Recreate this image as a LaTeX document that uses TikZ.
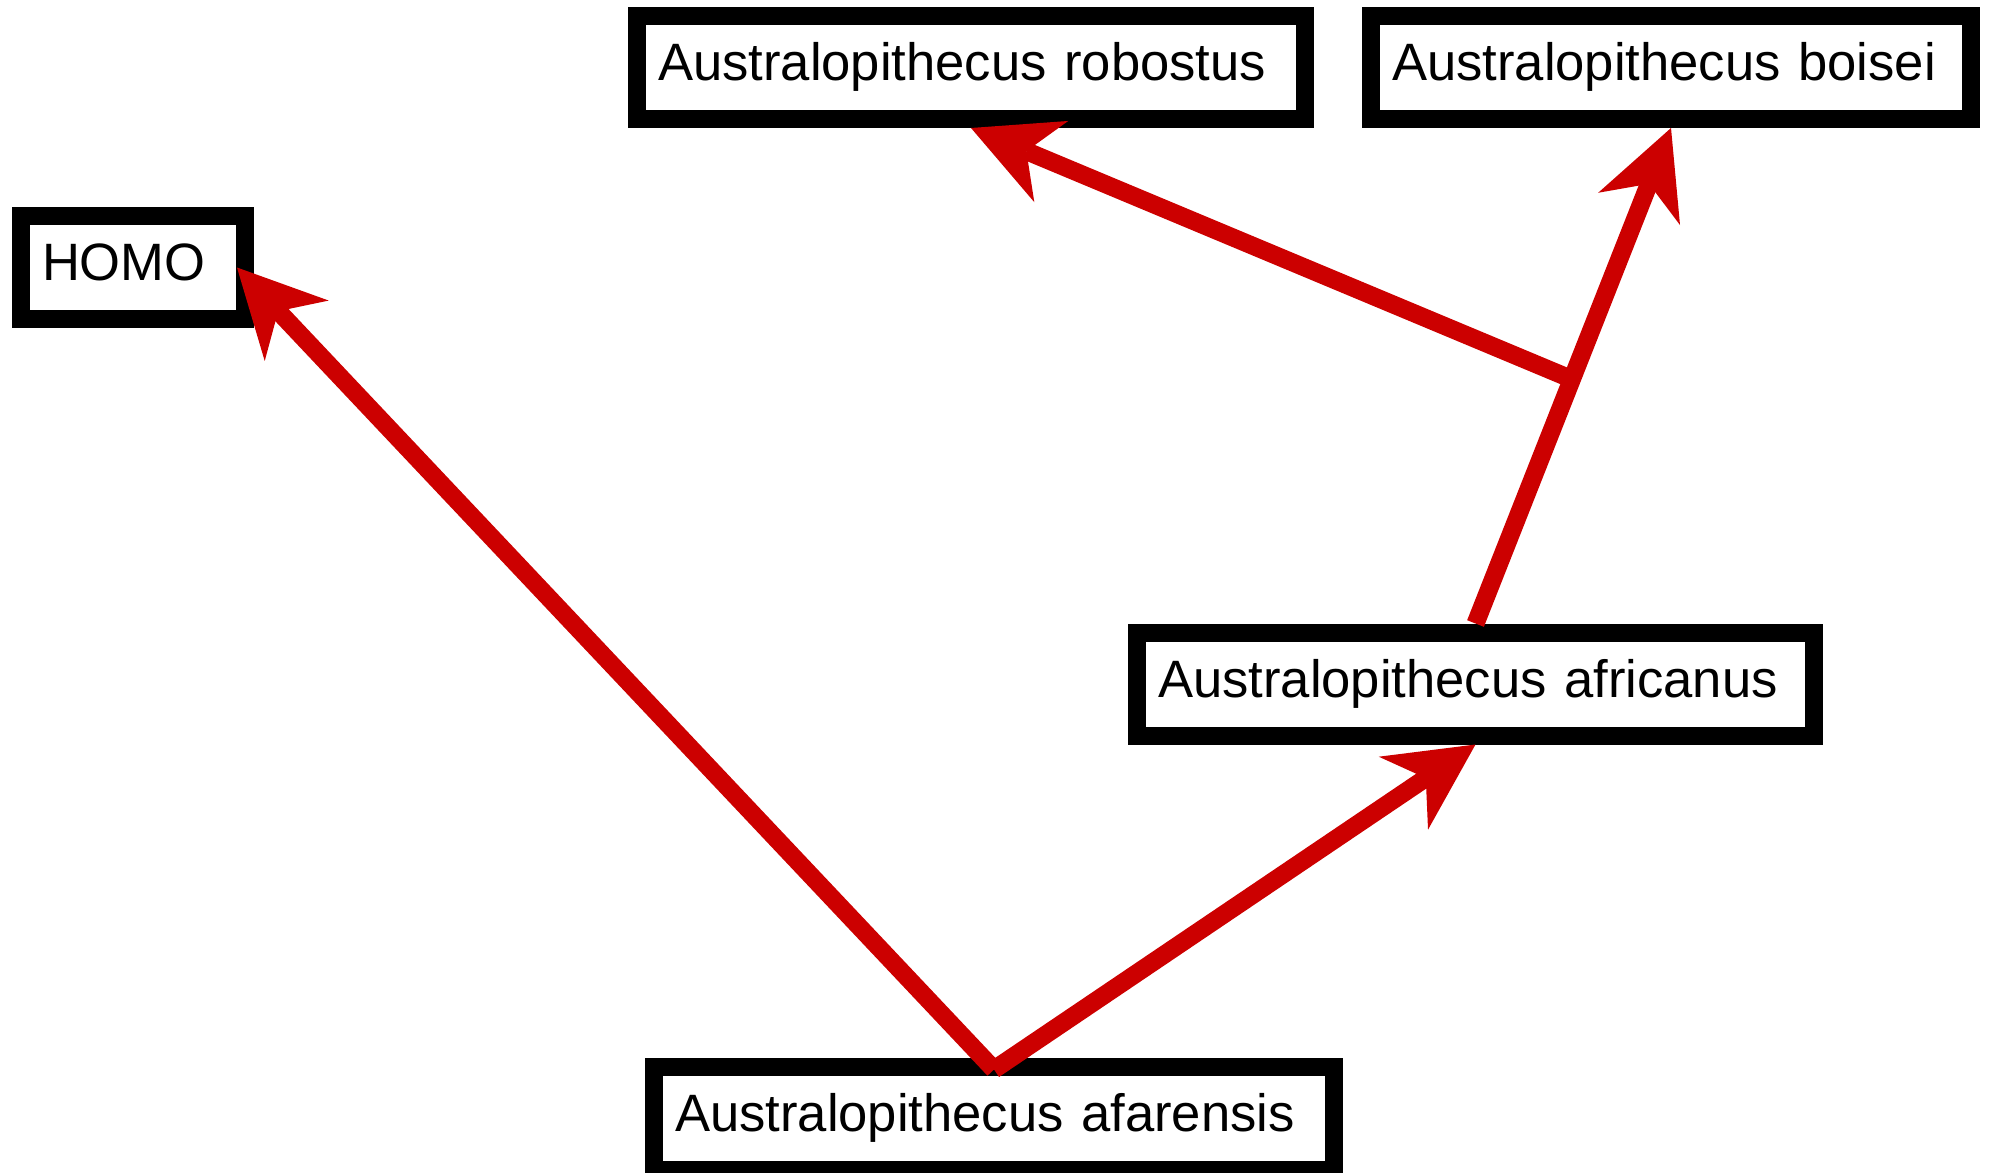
\documentclass[tikz,border=0pt]{standalone}
\usepackage{fontspec}
\setmainfont{Liberation Sans}
\usetikzlibrary{arrows.meta}
\usetikzlibrary{positioning}
\usetikzlibrary{calc}
\definecolor{linkred}{HTML}{CC0000}

\begin{document}
\begin{tikzpicture}[x=0.5pt,y=-0.5pt,
  taxon/.style={rectangle,draw=black,line width=9pt,fill=white,minimum height=51.5pt,
    inner xsep=10.5pt,align=left,text height=19pt,text depth=6pt,
    font=\fontsize{26.3}{31}\selectfont},
  lineage/.style={color=linkred,line width=9pt,
    -{Stealth[length=43.5pt,width=44pt,inset=13.5pt,line width=0pt]}}]

  \useasboundingbox (0,0) rectangle (1989,1172);

  \node[taxon,text width=313pt] (robostus) at (971,67.5) {Australopithecus robostus};
  \node[taxon,text width=279pt] (boisei) [right=24pt of robostus] {Australopithecus boisei};
  \node[taxon,text width=91pt] (HOMO) at (133,267.5) {HOMO};
  \node[taxon,text width=317.5pt] (africanus) at (1475.5,684) {Australopithecus africanus};
  \node[taxon,text width=319pt] (afarensis) at (994,1118) {Australopithecus afarensis};

  \coordinate (fork) at ([yshift=-6pt]afarensis.north);
  \coordinate (split) at ($(africanus.north)!0.493!(boisei.south)$);

  \path[lineage]
    (fork) edge ([xshift=-8.5pt]HOMO.east)
    (fork) edge (africanus.south)
    (africanus.north) edge (boisei.south)
    (split) edge (robostus.south);
\end{tikzpicture}
\end{document}
